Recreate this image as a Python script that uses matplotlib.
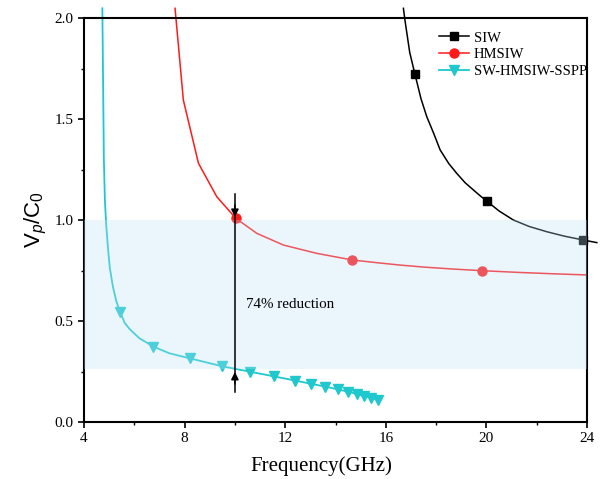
import matplotlib
matplotlib.use("Agg")
import matplotlib.pyplot as plt
from matplotlib.ticker import MultipleLocator

# values
siw_freq = [16.70, 16.76, 16.95, 17.16, 17.40, 17.63, 17.90, 18.16, 18.50, 18.82,
            19.15, 19.48, 19.75, 20.01, 20.50, 21.07, 21.70, 22.40, 23.10, 23.85, 24.39]
siw_vp = [2.048, 1.99, 1.83, 1.721, 1.60, 1.511, 1.43, 1.347, 1.28, 1.231,
          1.185, 1.149, 1.12, 1.094, 1.045, 1.000, 0.968, 0.942, 0.920, 0.901, 0.888]

hmsiw_freq = [7.62, 7.95, 8.55, 9.28, 10.04, 10.87, 11.93, 13.25, 14.67, 15.77,
              16.56, 17.50, 18.70, 19.84, 21.20, 22.60, 24.00]
hmsiw_vp = [2.048, 1.594, 1.281, 1.115, 1.008, 0.934, 0.876, 0.835, 0.802, 0.787,
            0.777, 0.767, 0.757, 0.749, 0.741, 0.734, 0.728]

sspp_freq = [4.73, 4.75, 4.77, 4.79, 4.83, 4.88, 4.96, 5.03, 5.15, 5.28, 5.43, 5.62,
             5.83, 6.20, 6.76, 7.40, 8.21, 8.90, 9.49, 10.60, 11.55, 12.40, 13.03,
             13.60, 14.08, 14.50, 14.84, 15.15, 15.42, 15.67]
sspp_vp = [2.048, 1.80, 1.55, 1.30, 1.10, 0.98, 0.85, 0.76, 0.67, 0.60, 0.546, 0.49,
           0.458, 0.415, 0.373, 0.340, 0.315, 0.294, 0.276, 0.249, 0.226, 0.205, 0.189,
           0.175, 0.162, 0.150, 0.139, 0.129, 0.120, 0.110]

band_low, band_high = 0.26, 1.0
arrow_freq = 10.0
arrow_top, arrow_bottom = 1.13, 0.15
arrow_head_top, arrow_head_bottom = 1.015, 0.248

serif = "Liberation Serif"
plt.rcParams["mathtext.fontset"] = "custom"
plt.rcParams["mathtext.rm"] = "Liberation Sans"
plt.rcParams["mathtext.it"] = "Liberation Sans:italic"

fig = plt.figure(figsize=(6.03, 4.79), dpi=100)
ax = fig.add_axes([0.1393, 0.119, 0.8342, 0.8434])

ax.plot(siw_freq, siw_vp, color="black", lw=1.1, marker="s", ms=6,
        markevery=[3, 13, 19], clip_on=False, zorder=2, label="SIW")
ax.plot(hmsiw_freq, hmsiw_vp, color="#ff1a1a", lw=1.1, marker="o", ms=6.5,
        markevery=[4, 8, 13], clip_on=False, zorder=2, label="HMSIW")
ax.plot(sspp_freq, sspp_vp, color="#1ec8cc", lw=1.3, marker="v", ms=7,
        markevery=[10, 14, 16] + list(range(18, 30)), clip_on=False, zorder=2,
        label="SW-HMSIW-SSPP")

ax.axhspan(band_low, band_high, color=(190/255, 225/255, 248/255), alpha=0.3,
           lw=0, zorder=3)

ax.plot([arrow_freq, arrow_freq], [arrow_top, arrow_bottom], color="black", lw=1.1, zorder=4)
ax.annotate("", xy=(arrow_freq, arrow_head_top), xytext=(arrow_freq, arrow_head_top + 0.06),
            arrowprops=dict(arrowstyle="-|>", color="black", lw=1.1,
                            mutation_scale=11, shrinkA=0, shrinkB=0), zorder=4)
ax.annotate("", xy=(arrow_freq, arrow_head_bottom), xytext=(arrow_freq, arrow_head_bottom - 0.06),
            arrowprops=dict(arrowstyle="-|>", color="black", lw=1.1,
                            mutation_scale=11, shrinkA=0, shrinkB=0), zorder=4)
ax.text(10.45, 0.58, "74% reduction", family=serif, fontsize=10.8, va="center", zorder=5)

ax.set_xlim(4, 24)
ax.set_ylim(0, 2.0)
ax.xaxis.set_major_locator(MultipleLocator(4))
ax.xaxis.set_minor_locator(MultipleLocator(2))
ax.yaxis.set_major_locator(MultipleLocator(0.5))
ax.yaxis.set_minor_locator(MultipleLocator(0.25))
ax.yaxis.set_major_formatter(lambda v, p: f"{v:.1f}")
ax.tick_params(which="major", direction="out", length=4, width=1.2, labelsize=11)
ax.tick_params(which="minor", direction="out", length=2.5, width=1)
for lab in ax.get_xticklabels() + ax.get_yticklabels():
    lab.set_family(serif)
for sp in ax.spines.values():
    sp.set_linewidth(1.5)

ax.set_xlabel("Frequency(GHz)", family=serif, fontsize=15)
ax.xaxis.set_label_coords(0.471, -0.085)
ax.set_ylabel(r"V$_p$/C$_0$", family="Liberation Sans", fontsize=16, labelpad=4)

ax.legend(loc="upper left", bbox_to_anchor=(0.705, 0.967), frameon=False,
          prop={"family": serif, "size": 10.5}, handlelength=2.1, handletextpad=0.3,
          labelspacing=0.25, borderpad=0, borderaxespad=0)

fig.savefig("out.png", dpi=100)
